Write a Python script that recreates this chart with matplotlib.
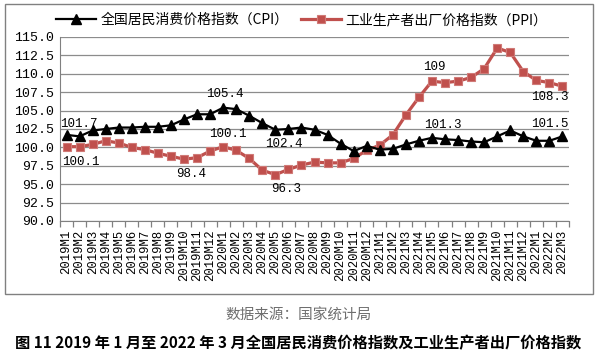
import matplotlib
matplotlib.use('Agg')
import matplotlib.pyplot as plt
from matplotlib.patches import Rectangle
import numpy as np

# Monthly labels 2019M1 .. 2022M3
months = (['2019M%d' % m for m in range(1, 13)] +
          ['2020M%d' % m for m in range(1, 13)] +
          ['2021M%d' % m for m in range(1, 13)] +
          ['2022M%d' % m for m in range(1, 4)])

cpi = [101.7, 101.5, 102.3, 102.5, 102.7, 102.7, 102.8, 102.8, 103.0, 103.8, 104.5, 104.5,
       105.4, 105.2, 104.3, 103.3, 102.4, 102.5, 102.7, 102.4, 101.7, 100.5, 99.5, 100.2,
       99.7, 99.8, 100.4, 100.9, 101.3, 101.1, 101.0, 100.8, 100.7, 101.5, 102.3, 101.5,
       100.9, 100.9, 101.5]
ppi = [100.1, 100.1, 100.4, 100.9, 100.6, 100.0, 99.7, 99.2, 98.8, 98.4, 98.6, 99.5,
       100.1, 99.6, 98.5, 96.9, 96.3, 97.0, 97.6, 98.0, 97.9, 97.9, 98.5, 99.6,
       100.3, 101.7, 104.4, 106.8, 109.0, 108.8, 109.0, 109.5, 110.7, 113.5, 112.9, 110.3,
       109.1, 108.8, 108.3]

cpi_name = '全国居民消费价格指数（CPI）'
ppi_name = '工业生产者出厂价格指数（PPI）'

# which points get a value label: (series, index, text, dx, dy) offsets in pixels
labels = [
    ('cpi', 0, '101.7', 12, 11),
    ('ppi', 0, '100.1', 14, -15),
    ('ppi', 9, '98.4', 7, -15),
    ('cpi', 12, '105.4', 2, 14),
    ('ppi', 12, '100.1', 5, 13),
    ('cpi', 16, '102.4', 9, -14),
    ('ppi', 16, '96.3', 11, -14),
    ('ppi', 28, '109', 2, 14),
    ('cpi', 28, '101.3', 11, 13),
    ('ppi', 38, '108.3', -13, -11),
    ('cpi', 38, '101.5', -13, 12),
]

cjk = ['Noto Sans CJK SC', 'DejaVu Sans']
mono = ['Liberation Mono', 'Noto Sans CJK SC']
red = '#C0504D'

fig = plt.figure(figsize=(5.97, 3.55), dpi=100)
fig.patch.set_facecolor('white')

# outer chart frame
fig.patches.append(Rectangle((5 / 597, 1 - 294 / 355), 588 / 597, 290 / 355,
                             transform=fig.transFigure, fill=False,
                             edgecolor='#808080', linewidth=1.0))

ax = fig.add_axes([60 / 597, 1 - 221 / 355, 509 / 597, 184 / 355])
x = np.arange(len(months))

l1, = ax.plot(x, cpi, color='black', linewidth=1.6, marker='^', markersize=7.5,
              markerfacecolor='black', markeredgecolor='black', label=cpi_name, zorder=4)
l2, = ax.plot(x, ppi, color=red, linewidth=2.3, marker='s', markersize=5.5,
              markerfacecolor=red, markeredgecolor='#D07A77', markeredgewidth=0.8,
              label=ppi_name, zorder=3)

series = {'cpi': cpi, 'ppi': ppi}
for s, i, txt, dx, dy in labels:
    ax.annotate(txt, (x[i], series[s][i]), xytext=(dx, dy), textcoords='offset pixels',
                ha='center', va='center', fontsize=9, family=mono, color='black', zorder=5)

ax.set_xlim(-0.5, len(months) - 0.5)
ax.set_ylim(90, 115)
ax.set_yticks(np.arange(90, 115.1, 2.5))
ax.set_yticklabels(['%.1f' % v for v in np.arange(90, 115.1, 2.5)], family=mono, fontsize=9.5)
ax.yaxis.grid(True, color='#8c8c8c', linewidth=0.9)
ax.set_axisbelow(True)
ax.tick_params(axis='y', length=0, pad=4)

ax.set_xticks(x)
ax.set_xticklabels(months, rotation=90, family=mono, fontsize=8.8)
ax.set_xticks(np.arange(-0.5, len(months), 1), minor=True)
ax.tick_params(axis='x', which='major', length=0, pad=6)
ax.tick_params(axis='x', which='minor', length=4, color='#808080', width=0.9)

for side in ['top', 'right']:
    ax.spines[side].set_visible(False)
ax.spines['left'].set_color('#808080')
ax.spines['bottom'].set_color('#808080')

fig.legend(handles=[l1, l2], loc='center', bbox_to_anchor=(0.505, 1 - 20 / 355), ncol=2,
           frameon=False, prop={'family': cjk, 'size': 10}, handlelength=2.9,
           handletextpad=0.3, columnspacing=0.9, borderaxespad=0)

fig.text(0.5, 1 - 316 / 355, '数据来源：国家统计局', ha='center', va='center',
         family=cjk, fontsize=10.5, color='#6e6e6e')
fig.text(0.5, 1 - 343 / 355,
         '图 11 2019 年 1 月至 2022 年 3 月全国居民消费价格指数及工业生产者出厂价格指数',
         ha='center', va='center', family=cjk, fontsize=11, fontweight='bold')

fig.savefig('out.png', dpi=100)
